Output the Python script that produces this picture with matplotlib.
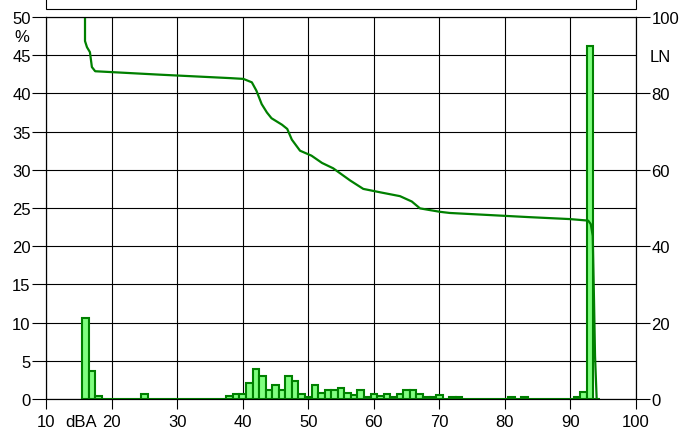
import matplotlib
matplotlib.use("Agg")
import matplotlib.pyplot as plt
from matplotlib.patches import Rectangle

plt.rcParams['font.family'] = ['Liberation Sans', 'DejaVu Sans']
plt.rcParams['font.size'] = 12

# level distribution (% of time per 1 dBA class)
levels = list(range(16, 95))
percent = [10.6, 3.6, 0.35, 0, 0, 0, 0, 0, 0, 0.6,          # 16-25
           0, 0, 0, 0, 0, 0, 0, 0, 0, 0, 0, 0,               # 26-37
           0.35, 0.65, 0.65,                                 # 38-40
           2.15, 3.9, 3.05, 1.15, 1.85, 1.2, 3.05, 2.4, 0.6, 0.2,   # 41-50
           1.85, 0.75, 1.2, 1.2, 1.5, 0.85, 0.5, 1.2, 0.3, 0.65,    # 51-60
           0.35, 0.65, 0.2, 0.65, 1.2, 1.2, 0.65, 0.2, 0.3, 0.55,   # 61-70
           0, 0.3, 0.3, 0, 0, 0, 0, 0, 0, 0,                 # 71-80
           0.3, 0, 0.3, 0, 0, 0, 0, 0, 0, 0,                 # 81-90
           0.3, 0.95, 46.2, 0]                               # 91-94

# LN curve (percentile levels)
ln_x = [15.95, 15.95, 16.25, 16.7, 17.0, 17.5, 27.4, 38.1, 40.1, 41.4, 42.1,
        42.9, 43.7, 44.4, 46.0, 46.8, 47.5, 48.75, 50.5, 52.1, 53.8, 56.4,
        58.4, 61.0, 64.0, 65.8, 67.05, 70.1, 71.6, 83.8, 89.9, 92.7, 93.1,
        93.4, 93.6, 93.75, 94.0]
ln_y = [100, 93.7, 92.1, 90.8, 86.9, 85.8, 84.9, 84.0, 83.8, 82.9, 80.7,
        77.2, 75.0, 73.5, 71.8, 70.7, 67.9, 65.0, 63.7, 61.8, 60.4, 57.2,
        55.0, 54.1, 53.1, 51.7, 49.9, 49.0, 48.7, 47.6, 47.1, 46.7, 45.8,
        42.7, 25.4, 11.3, 0]

fig = plt.figure(figsize=(6.87, 4.35), dpi=100)
ax = fig.add_axes([46/687, 35/435, 590/687, 382/435])

ax.bar(levels, percent, width=1.0, color='#80ff80', edgecolor='#008000',
       linewidth=1.5, zorder=3)

ax.set_xlim(10, 100)
ax.set_ylim(0, 50)
ax.set_xticks(range(10, 101, 10))
ax.set_yticks(range(0, 51, 5))
ax.grid(True, color='black', linewidth=0.8)
ax.set_axisbelow(True)
ax.tick_params(axis='y', direction='out', length=10, width=0.8, pad=1)
ax.tick_params(axis='x', direction='out', length=7, width=0.8, pad=4)
for s in ax.spines.values():
    s.set_linewidth(0.8)

ax2 = ax.twinx()
ax2.plot(ln_x, ln_y, color='#008000', linewidth=1.6)
ax2.set_ylim(0, 100)
ax2.set_yticks(range(0, 101, 20))
ax2.tick_params(axis='y', direction='out', length=10, width=0.8, pad=1)
ax2.set_xlim(10, 100)

ax.annotate('dBA', xy=(15.3, 0), xycoords=('data', 'axes fraction'),
            xytext=(0, -11), textcoords='offset points', ha='center', va='top')
fig.text(22/687, 1 - 38/435, '%', ha='center', va='center')
fig.text(660/687, 1 - 57/435, 'LN', ha='center', va='center')

# box cut off at the top
fig.add_artist(Rectangle((46/687, 1 - 9.5/435), 590/687, 0.05,
                         transform=fig.transFigure, facecolor='white',
                         edgecolor='black', linewidth=0.8, clip_on=False))

fig.savefig('out.png', dpi=100)
